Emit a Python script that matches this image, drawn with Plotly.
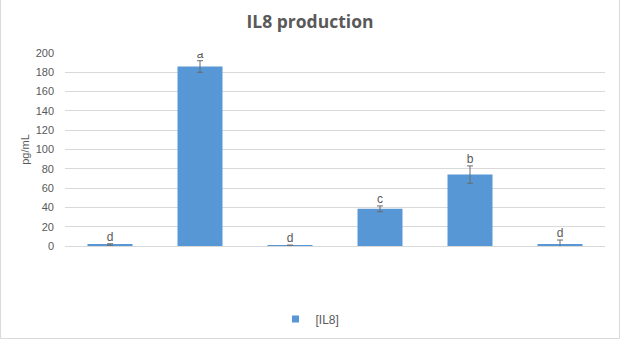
import plotly.graph_objects as go

categories = ["1", "2", "3", "4", "5", "6"]
values = [1.5, 186, 0.6, 38.5, 74, 2.2]
errors = [0.8, 6, 0.4, 3, 9, 4]
letters = ["d", "a", "d", "c", "b", "d"]
series_name = "[IL8]"
title = "IL8 production"
y_title = "pg/mL"

W, H = 620, 339
L, R, T, B = 65, 15, 53, 93
pw, ph = W - L - R, H - T - B
BLUE = "#5797d5"
GREY = "#595959"

fig = go.Figure()
fig.add_trace(go.Bar(
    x=categories, y=values, name=series_name, showlegend=False,
    marker=dict(color=BLUE, line=dict(width=0)),
    error_y=dict(type="data", array=errors, visible=True,
                 color="#6b6b6b", thickness=1, width=3),
))
fig.add_trace(go.Scatter(
    x=categories, y=[v + e for v, e in zip(values, errors)],
    mode="text", text=letters, textposition="top center",
    textfont=dict(size=12, color=GREY, family="Liberation Sans"),
    showlegend=False, hoverinfo="skip",
))
# legend entry (small square like the original)
fig.add_trace(go.Scatter(
    x=[None], y=[None], mode="markers", name=series_name,
    marker=dict(symbol="square", size=7, color=BLUE),
    showlegend=True,
))

fig.update_layout(
    width=W, height=H,
    margin=dict(l=L, r=R, t=T, b=B, pad=0, autoexpand=False),
    paper_bgcolor="white", plot_bgcolor="white",
    title=dict(text="<b>" + title + "</b>", x=0.5, xanchor="center",
               y=1 - 22 / H, yanchor="middle",
               font=dict(size=17.5, color=GREY, family="Open Sans")),
    bargap=0.5,
    showlegend=True,
    legend=dict(orientation="h", x=0.5, xanchor="center",
                xref="container", yref="container",
                y=1 - 319 / H, yanchor="middle", itemwidth=30,
                font=dict(size=12, color=GREY, family="Liberation Sans")),
    xaxis=dict(showticklabels=False, showgrid=False, zeroline=False,
               showline=True, linecolor="#d9d9d9", linewidth=1, ticks=""),
    yaxis=dict(range=[0, 200], dtick=20, showgrid=True, gridcolor="#d9d9d9",
               gridwidth=1, zeroline=False, showline=False, ticks="",
               ticklabelstandoff=10,
               tickfont=dict(size=11, color=GREY, family="Liberation Sans"),
               title=dict(text=y_title, standoff=3,
                          font=dict(size=11, color=GREY, family="Liberation Sans"))),
)

fig.add_shape(type="rect", xref="paper", yref="paper",
              x0=(0.5 - L) / pw, x1=(W - 0.5 - L) / pw,
              y0=-(H - 0.5 - T - ph) / ph, y1=(H - T - 0.5) / ph,
              line=dict(color="#d9d9d9", width=1), layer="below")

fig.write_html("out.html")
